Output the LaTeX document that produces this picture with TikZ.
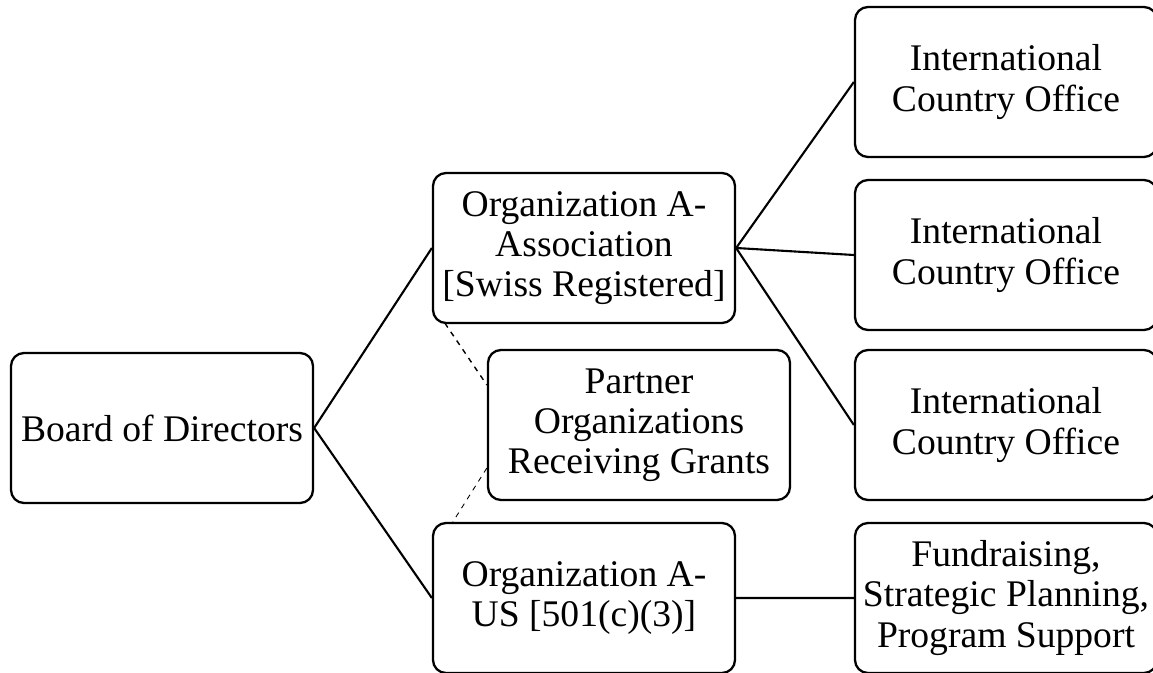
\documentclass[tikz,border=0pt]{standalone}
\usepackage{fontspec}
\setmainfont{Liberation Serif}
\usepackage{tikz}
\usetikzlibrary{positioning}
\tikzset{
        unit/.style={draw, line width=1.3pt, rounded corners=0.26cm, minimum width=6.04cm, minimum height=3cm, align=center, font=\fontsize{21.4}{22.8}\selectfont}, % every box
        link/.style={line width=1.2pt}, % solid connectors
        partnerlink/.style={dashed, line width=0.8pt}, % dashed ties to partners
    }
\begin{document}
\begin{tikzpicture}
    \useasboundingbox (0,0) rectangle (23.06,-13.46);
    \node[unit] (board) at (3.24,-8.56) {Board of Directors};
    \node[unit] (assoc) at (11.68,-4.96) {Organization A-\\Association\\{[Swiss Registered]}};
    \node[unit] (partner) at (12.78,-8.50) {Partner\\Organizations\\Receiving Grants};
    \node[unit] (us) at (11.68,-11.96) {Organization A-\\US [501(c)(3)]};
    \node[unit] (io1) at (20.12,-1.64) {International\\Country Office};
    \node[unit] (io2) at (20.12,-5.10) {International\\Country Office};
    \node[unit] (io3) at (20.12,-8.50) {International\\Country Office};
    \node[unit] (fund) at (20.12,-11.96) {Fundraising,\\Strategic Planning,\\Program Support};
    \draw[link]
      (board.east) -- (assoc.west)
      (board.east) -- (us.west)
      (assoc.east) -- (io1.west)
      (assoc.east) -- (io2.west)
      (assoc.east) -- (io3.west)
      (us.east) -- (fund.west);
    \draw[partnerlink] ([shift={(0.26,0.02)}]assoc.south west) -- ([yshift=0.8cm]partner.west);
    \draw[partnerlink, line width=0.5pt] ([yshift=-0.86cm]partner.west) -- ([xshift=0.42cm]us.north west);
\end{tikzpicture}
\end{document}
